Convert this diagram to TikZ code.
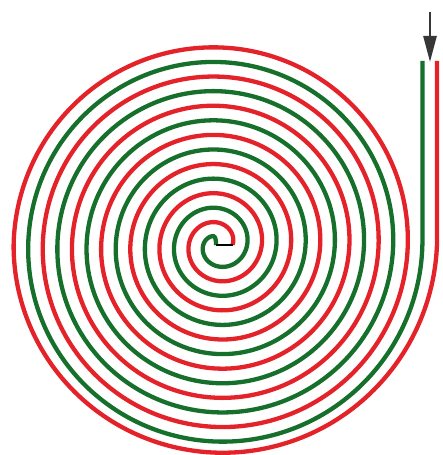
\documentclass[tikz,border=0pt]{standalone}
\usetikzlibrary{arrows.meta}
\definecolor{spred}{RGB}{228,34,42}
\definecolor{spgreen}{RGB}{22,112,44}
\definecolor{arrowgray}{RGB}{55,55,55}
\begin{document}
\begin{tikzpicture}[x=1pt,y=1pt,
  wire/.style={line width=4.3pt, line join=round},
  redwire/.style={wire, draw=spred},
  greenwire/.style={wire, draw=spgreen},
  bridge/.style={line width=2.2pt, draw=black},
  feed/.style={line width=2.6pt, draw=arrowgray, -{Triangle[length=26pt,width=13pt]}}]
\useasboundingbox (0,0) rectangle (442,455);
\def\cx{218}\def\cy{210.5}\def\pp{29.2}
\coordinate (gin) at (216,209.8);
\coordinate (gstart) at ({\cx+\pp*(120/360)*cos(120)},{\cy+\pp*(120/360)*sin(120)});
\coordinate (rin) at ({\cx+\pp/2},209.8);
\coordinate (gtop) at ({\cx+7*\pp},394);
\coordinate (rtop) at ({\cx+7.5*\pp},394);
\coordinate (atail) at (430,443);
\coordinate (atip) at (430,393);
\draw[greenwire] (gin) .. controls (216,215) and (215.5,219) .. (gstart)
  -- plot[domain=120:2520, samples=900, variable=\t, smooth]
  ({\cx+\pp*(\t/360)*cos(\t)},{\cy+\pp*(\t/360)*sin(\t)}) -- (gtop);
\draw[redwire] (rin) --
  plot[domain=360:2880, samples=1000, variable=\t, smooth]
  ({\cx+(\pp*((\t-180)/360)-3.5*(\t>2700)*sin(\t-2700))*cos(\t)},
   {\cy+(\pp*((\t-180)/360)-3.5*(\t>2700)*sin(\t-2700))*sin(\t)}) -- (rtop);
\draw[bridge] (gin) -- (rin);
\draw[feed] (atail) -- (atip);
\end{tikzpicture}
\end{document}
